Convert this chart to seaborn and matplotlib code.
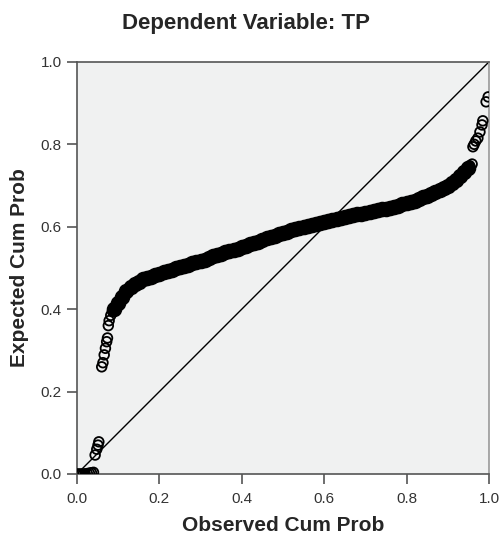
import matplotlib
matplotlib.use("Agg")
import matplotlib.pyplot as plt
import numpy as np
import pandas as pd
import seaborn as sns

# --- data ---
obs_low = [0.000, 0.005, 0.010, 0.015, 0.020, 0.025, 0.030, 0.035, 0.040,
           0.044, 0.048, 0.051, 0.053]
exp_low = [0.000, 0.000, 0.000, 0.000, 0.000, 0.001, 0.002, 0.003, 0.004,
           0.046, 0.060, 0.070, 0.078]

obs_jump = [0.060, 0.063, 0.066, 0.069, 0.072, 0.074, 0.076, 0.078, 0.082, 0.086]
exp_jump = [0.260, 0.270, 0.289, 0.305, 0.321, 0.330, 0.360, 0.372, 0.385, 0.395]

obs_band = [0.09, 0.10, 0.11, 0.12, 0.13, 0.14, 0.15, 0.16, 0.17,
            0.18, 0.19, 0.20, 0.21, 0.22, 0.23, 0.24, 0.25, 0.26, 0.27,
            0.28, 0.29, 0.30, 0.31, 0.32, 0.33, 0.34, 0.35, 0.36, 0.37,
            0.38, 0.39, 0.40, 0.41, 0.42, 0.43, 0.44, 0.45, 0.46, 0.47,
            0.48, 0.49, 0.50, 0.51, 0.52, 0.53, 0.54, 0.55, 0.56, 0.57,
            0.58, 0.59, 0.60, 0.61, 0.62, 0.63, 0.64, 0.65, 0.66, 0.67,
            0.68, 0.69, 0.70, 0.71, 0.72, 0.73, 0.74, 0.75, 0.76, 0.77,
            0.78, 0.79, 0.80, 0.81, 0.82, 0.83, 0.84, 0.85, 0.86, 0.87,
            0.88, 0.89, 0.90, 0.91, 0.92, 0.93, 0.94, 0.95]
exp_band = [0.400, 0.415, 0.430, 0.443, 0.453, 0.461, 0.467, 0.472, 0.476,
            0.479, 0.482, 0.485, 0.489, 0.492, 0.495, 0.499, 0.502, 0.505, 0.508,
            0.511, 0.514, 0.517, 0.520, 0.524, 0.528, 0.531, 0.535, 0.538, 0.541,
            0.544, 0.547, 0.550, 0.554, 0.557, 0.561, 0.564, 0.568, 0.572, 0.575,
            0.578, 0.582, 0.585, 0.588, 0.591, 0.594, 0.597, 0.600, 0.602, 0.604,
            0.607, 0.609, 0.611, 0.614, 0.616, 0.619, 0.621, 0.624, 0.626, 0.628,
            0.630, 0.632, 0.634, 0.636, 0.638, 0.640, 0.642, 0.644, 0.646, 0.648,
            0.651, 0.654, 0.657, 0.660, 0.663, 0.667, 0.671, 0.675, 0.679, 0.684,
            0.689, 0.694, 0.700, 0.707, 0.714, 0.722, 0.732, 0.742]

obs_top = [0.953, 0.959, 0.961, 0.964, 0.968, 0.973, 0.978, 0.983, 0.985, 0.993, 0.998]
exp_top = [0.748, 0.752, 0.794, 0.800, 0.808, 0.815, 0.830, 0.847, 0.857, 0.903, 0.915]

ticks = [0.0, 0.2, 0.4, 0.6, 0.8, 1.0]
tick_labels = ["0.0", "0.2", "0.4", "0.6", "0.8", "1.0"]

sparse = pd.DataFrame({
    "observed": obs_low + obs_jump + obs_top,
    "expected": exp_low + exp_jump + exp_top,
})
band = pd.DataFrame({"observed": obs_band, "expected": exp_band})

sns.set_style("ticks")
plt.rcParams["font.family"] = ["Liberation Sans", "DejaVu Sans"]

fig = plt.figure(figsize=(5.0, 5.38), dpi=100)
ax = fig.add_axes([0.154, 0.119, 0.824, 0.766])
ax.set_facecolor("#f0f1f1")

# reference diagonal
sns.lineplot(x=[0, 1], y=[0, 1], color="black", linewidth=1.0, ax=ax)

# the dense middle part overlaps into a solid black band
sns.scatterplot(data=band, x="observed", y="expected", marker="o", s=100,
                color="black", edgecolor="black", linewidth=1.2, ax=ax,
                zorder=3)
sns.scatterplot(data=sparse, x="observed", y="expected", marker="o", s=48,
                facecolors="none", edgecolor="black", linewidth=1.3, ax=ax,
                zorder=3)

ax.set_xlim(0, 1)
ax.set_ylim(0, 1)
ax.set_xticks(ticks)
ax.set_xticklabels(tick_labels)
ax.set_yticks(ticks)
ax.set_yticklabels(tick_labels)
ax.tick_params(axis="x", pad=6)
ax.tick_params(axis="y", pad=4)
ax.tick_params(axis="both", direction="out", length=7, width=1.2,
               colors="#555555", labelcolor="#333333", labelsize=11)

for side in ["left", "bottom", "top"]:
    ax.spines[side].set_visible(True)
    ax.spines[side].set_color("#555555")
    ax.spines[side].set_linewidth(1.2)
ax.spines["right"].set_visible(True)
ax.spines["right"].set_color("#999999")
ax.spines["right"].set_linewidth(1.2)

ax.set_xlabel("Observed Cum Prob", fontsize=15, fontweight="bold", labelpad=7)
ax.set_ylabel("Expected Cum Prob", fontsize=15, fontweight="bold", labelpad=8)
fig.suptitle("Dependent Variable: TP", x=0.492, y=0.975, fontsize=16, fontweight="bold")

fig.savefig("out.png", dpi=100)
